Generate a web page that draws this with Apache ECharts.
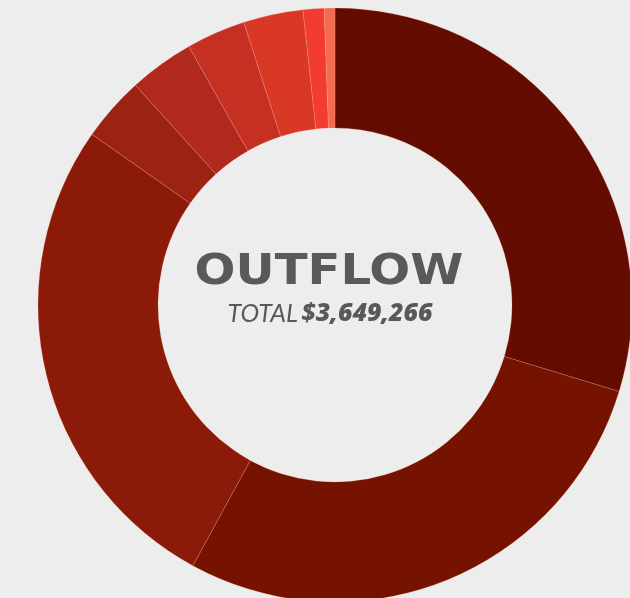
<!DOCTYPE html>
<html>
<head>
<meta charset="utf-8">
<script src="https://cdn.jsdelivr.net/npm/echarts@6/dist/echarts.min.js"></script>
<style>
  html, body { margin: 0; padding: 0; background: #ededed; }
  #chart { width: 630px; height: 598px; }
</style>
</head>
<body>
<div id="chart"></div>
<script>
// outflow categories, clockwise from 12 o'clock
const categories = ['Outflow 1', 'Outflow 2', 'Outflow 3', 'Outflow 4', 'Outflow 5',
  'Outflow 6', 'Outflow 7', 'Outflow 8', 'Outflow 9'];
const amounts = [1084000, 1030500, 978000, 128500, 129500, 117500, 118500, 41500, 21266];
const sliceColors = ['#650c00', '#761300', '#8b1a08', '#9c2213', '#b0291c',
  '#c63023', '#d93827', '#f13c2f', '#f46b50'];
const centerTitle = 'OUTFLOW';
const totalLabel = 'TOTAL';
const totalValue = '$3,649,266';

var myChart = echarts.init(document.getElementById('chart'));

myChart.setOption({
  backgroundColor: '#ededed',
  animation: false,
  series: [
    {
      type: 'pie',
      center: [335, 305],
      radius: [177, 297],
      startAngle: 90,
      silent: true,
      label: { show: false },
      labelLine: { show: false },
      itemStyle: {
        borderColor: 'rgba(255,190,175,0.35)',
        borderWidth: 0.6
      },
      data: categories.map(function (name, i) {
        return { name: name, value: amounts[i], itemStyle: { color: sliceColors[i] } };
      })
    }
  ],
  graphic: [
    {
      type: 'text',
      x: 329,
      y: 273,
      scaleX: 1.12,
      style: {
        text: centerTitle,
        align: 'center',
        verticalAlign: 'middle',
        font: 'bold 43px "DejaVu Sans"',
        fill: '#58595b'
      }
    },
    {
      type: 'text',
      x: 330,
      y: 314,
      style: {
        text: '{a|' + totalLabel + '} {b|' + totalValue + '}',
        align: 'center',
        verticalAlign: 'middle',
        fill: '#58595b',
        rich: {
          a: { fontFamily: 'Lato', fontStyle: 'italic', fontSize: 25, fill: '#58595b' },
          b: { fontFamily: 'Open Sans', fontStyle: 'italic', fontWeight: 800, fontSize: 25, fill: '#58595b' }
        }
      }
    }
  ]
});
</script>
</body>
</html>
